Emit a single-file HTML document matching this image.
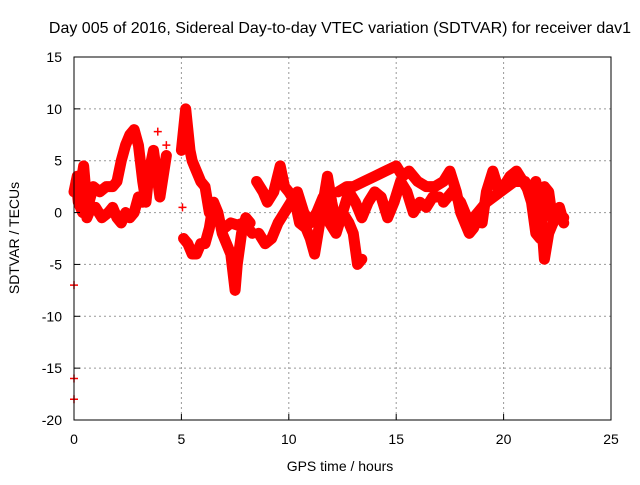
<!DOCTYPE html>
<html><head><meta charset="utf-8"><style>
body{margin:0;background:#fff;}
svg text{font-family:"Liberation Sans",sans-serif;font-size:14px;fill:#000;}
svg text.title{font-size:16px;}
</style></head><body>
<svg id="chart" width="640" height="480">
<text class="title" x="340" y="33" text-anchor="middle">Day 005 of 2016, Sidereal Day-to-day VTEC variation (SDTVAR) for receiver dav1</text>
<text x="340" y="471" text-anchor="middle">GPS time / hours</text>
<text transform="translate(19,238) rotate(-90)" text-anchor="middle">SDTVAR / TECUs</text>
<g id="grid"></g><g id="marks"></g><g id="axes"></g>
</svg>
<script>
const xTicks=[0,5,10,15,20,25];
const yTicks=[-20,-15,-10,-5,0,5,10,15];
const trackA=[[0,2],[0.15,3.5],[0.3,2.5],[0.45,4.5],[0.55,2],[0.7,1],[0.9,2.5],[1.2,2],[1.5,2.5],[1.8,2.5],[2.0,3],[2.2,5],[2.4,6.5],[2.6,7.5],[2.8,8],[3.0,6.5],[3.2,3],[3.35,1],[3.5,4],[3.7,6],[3.9,3],[4.0,1.5],[4.15,3.5],[4.3,5.5]];
const trackB=[[0.1,3],[0.2,1],[0.4,0],[0.5,3],[0.6,-0.5],[0.8,0.5],[1.0,0.5],[1.3,-0.5],[1.6,0],[1.8,0.5],[2.0,-0.5],[2.2,-1],[2.4,0],[2.6,-0.5],[2.8,0],[3.0,1.5],[3.2,1]];
const trackC=[[5.0,6],[5.1,8],[5.2,10],[5.3,8],[5.4,6],[5.5,5],[5.7,4],[5.9,3],[6.1,2.5],[6.3,0],[6.5,-0.5],[6.8,-1],[7.0,-1.5],[7.3,-1],[7.6,-1.2],[7.9,-1],[8.1,-1.5],[8.3,-2]];
const trackD=[[5.1,-2.5],[5.3,-3],[5.5,-4],[5.7,-4],[5.9,-3],[6.1,-3],[6.3,-1.5],[6.5,1],[6.7,0],[6.9,-2],[7.1,-3],[7.3,-4],[7.5,-7.5],[7.6,-5],[7.8,-2],[8.0,-0.5],[8.2,-1]];
const trackE=[[8.5,3],[8.8,2],[9.0,1],[9.3,2],[9.6,4.5],[9.8,2.5],[10.0,2],[10.3,1],[10.5,-1],[10.8,-1.5],[11.0,-2.5],[11.2,-4],[11.4,-1.5],[11.6,1],[11.8,3.5],[12.0,1],[12.2,-1],[12.5,0],[12.8,-1],[13.0,-2],[13.2,-5],[13.4,-4.5]];
const trackF=[[8.6,-2],[8.9,-3],[9.2,-2.5],[9.5,-1],[9.8,0],[10.1,1],[10.4,2],[10.7,0],[11.0,-1],[11.3,0],[11.6,1.5],[11.9,-1],[12.2,-2],[12.5,0],[12.8,2],[13.1,1],[13.4,-0.5],[13.7,1],[14.0,2],[14.3,1.5],[14.6,-0.5],[14.9,1],[15.2,3],[15.5,2],[15.8,0],[16.1,1],[16.4,0.5],[16.7,1.5],[17.0,1.5]];
const trackG=[[12.3,2],[12.7,2.5],[13.0,2.5],[13.5,3],[14.0,3.5],[14.5,4],[15.0,4.5],[15.3,3.5],[15.6,4],[16.0,3],[16.4,2.5],[16.8,2.5],[17.2,3],[17.5,4],[17.8,2],[18.0,0],[18.2,-1],[18.4,-2],[18.6,-1.5],[18.8,-0.5],[19.0,-1],[19.2,2],[19.5,4],[19.8,2],[20.0,2.5],[20.3,3.5],[20.6,4],[20.9,3],[21.2,2],[21.5,3],[21.7,1],[21.9,-4.5],[22.1,-2],[22.3,-1],[22.5,0],[22.8,-0.5]];
const trackH=[[17.2,1],[17.6,2],[18.0,1],[18.4,-1],[18.8,0],[19.2,1],[20.5,3],[21.0,3],[21.3,1],[21.5,-2],[21.7,-2.5],[21.9,2.5],[22.1,2],[22.3,-1],[22.6,0.5],[22.8,-1]];
const outliers=[[0,-7],[0,-16],[0,-18],[3.9,7.8],[4.3,6.5],[5.05,0.5]];
const tracks=[trackA,trackB,trackC,trackD,trackE,trackF,trackG,trackH];
const L=74,R=611,T=57,B=420;
const X=t=>L+(t-0)/25*(R-L);
const Y=v=>B-(v+20)/35*(B-T);
const NS="http://www.w3.org/2000/svg";
function mk(tag,attrs,parent){const e=document.createElementNS(NS,tag);for(const k in attrs)e.setAttribute(k,attrs[k]);parent.appendChild(e);return e;}
const grid=document.getElementById('grid'),marks=document.getElementById('marks'),axes=document.getElementById('axes');
xTicks.forEach(t=>{
 if(t>0&&t<25){const g=mk('line',{x1:X(t),x2:X(t),y1:T,y2:B,stroke:'#999','stroke-dasharray':'2,3'},grid);
 
 }
 const tk=mk('line',{x1:X(t),x2:X(t),y1:B,y2:B-6,stroke:'#000'},axes);
 
 
 const lb=mk('text',{x:X(t),y:B+24,'text-anchor':'middle'},axes);lb.textContent=t;
 
 
});
yTicks.forEach(v=>{
 if(v>-20&&v<15){const g=mk('line',{x1:L,x2:R,y1:Y(v),y2:Y(v),stroke:'#999','stroke-dasharray':'2,3'},grid);
 
 }
 const tk=mk('line',{x1:L,x2:L+6,y1:Y(v),y2:Y(v),stroke:'#000'},axes);
 
 
 const lb=mk('text',{x:L-12,y:Y(v)+5,'text-anchor':'end'},axes);lb.textContent=v;
 
 
});
const fr=mk('rect',{x:L,y:T,width:R-L,height:B-T,fill:'none',stroke:'#000'},axes);


function plus(t,v){const x=X(t),y=Y(v);const p=mk('path',{d:`M${x-4},${y}h8M${x},${y-4}v8`,stroke:'#f00','stroke-width':1.5},marks);
 
 }
tracks.forEach(tr=>{
 const pl=mk('polyline',{points:tr.map(p=>X(p[0])+','+Y(p[1])).join(' '),fill:'none',stroke:'#f00','stroke-width':11,'stroke-linejoin':'round','stroke-linecap':'round'},marks);
 
 
 tr.forEach(p=>plus(p[0],p[1]));
});
outliers.forEach(p=>plus(p[0],p[1]));
</script>
</body></html>
